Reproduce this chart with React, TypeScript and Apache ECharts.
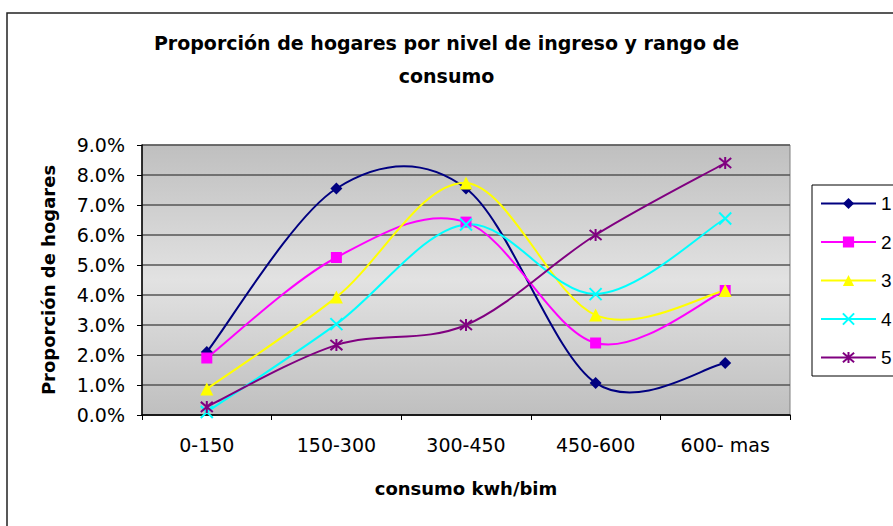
import React, { useEffect, useRef } from "react";
import * as echarts from "echarts";

const categories = ["0-150", "150-300", "300-450", "450-600", "600- mas"];
const seriesNames = ["1", "2", "3", "4", "5"];
const s1 = [2.1, 7.55, 7.55, 1.07, 1.73];
const s2 = [1.9, 5.25, 6.43, 2.4, 4.15];
const s3 = [0.87, 3.93, 7.73, 3.33, 4.15];
const s4 = [0.1, 3.03, 6.35, 4.03, 6.55];
const s5 = [0.27, 2.33, 3.0, 6.0, 8.4];
const seriesValues = [s1, s2, s3, s4, s5];
const colors = ["#000080", "#FF00FF", "#FFFF00", "#00FFFF", "#800080"];
const symbols = [
  "diamond",
  "rect",
  "triangle",
  "path://M0,0L10,10M10,0L0,10",
  "path://M5,0L5,10M0,0.8L10,9.2M10,0.8L0,9.2",
];
const symbolSizes = [12, 11, 13, 12, 12];

const FONT = "'DejaVu Sans', sans-serif";
const LEGEND_FONT = "'Liberation Sans', Arial, sans-serif";

// Excel-like smoothed curve (Catmull-Rom style Bezier) through the points
function smoothPath(pts: number[][]): string {
  const n = pts.length;
  let d = `M${pts[0][0]},${pts[0][1]}`;
  for (let i = 0; i < n - 1; i++) {
    const p0 = pts[Math.max(i - 1, 0)];
    const p1 = pts[i];
    const p2 = pts[i + 1];
    const p3 = pts[Math.min(i + 2, n - 1)];
    const c1x = p1[0] + (p2[0] - p0[0]) / 6;
    const c1y = p1[1] + (p2[1] - p0[1]) / 6;
    const c2x = p2[0] - (p3[0] - p1[0]) / 6;
    const c2y = p2[1] - (p3[1] - p1[1]) / 6;
    d += ` C${c1x},${c1y} ${c2x},${c2y} ${p2[0]},${p2[1]}`;
  }
  return d;
}

export default function App() {
  const ref = useRef<HTMLDivElement>(null);
  useEffect(() => {
    if (!ref.current) return;
    const chart = echarts.init(ref.current, undefined, { renderer: "svg" });
    const curveSeries = seriesValues.map((vals, i) => ({
      name: "curve" + seriesNames[i],
      type: "custom",
      silent: true,
      z: 2,
      data: [[0, vals[0]]],
      renderItem: (_params: any, api: any) => {
        const pts = vals.map((v, j) => api.coord([j, v]));
        return {
          type: "path",
          shape: { pathData: smoothPath(pts) },
          style: { stroke: colors[i], fill: "none", lineWidth: 2 },
        };
      },
    }));
    const markerSeries = seriesValues.map((vals, i) => {
      const isStroke = i >= 3;
      return {
        name: seriesNames[i],
        type: "line",
        z: 3,
        data: vals,
        symbol: symbols[i],
        symbolSize: symbolSizes[i],
        showAllSymbol: true,
        lineStyle: { color: colors[i], width: 2, opacity: 0 },
        itemStyle: isStroke
          ? { color: colors[i], borderColor: colors[i], borderWidth: 2 }
          : { color: colors[i], borderWidth: 0 },
        emphasis: { disabled: true },
      };
    });
    chart.setOption({
      animation: false,
      textStyle: { fontFamily: FONT },
      color: colors,
      title: {
        text: "Proporción de hogares por nivel de ingreso y rango de\nconsumo",
        left: "center",
        top: 21,
        textStyle: {
          fontFamily: FONT,
          fontWeight: "bold",
          fontSize: 19,
          color: "#000",
          lineHeight: 33,
        },
      },
      graphic: [
        {
          type: "rect",
          shape: { x: 7, y: 13, width: 950, height: 600 },
          style: { fill: "none", stroke: "#222", lineWidth: 1.5 },
          silent: true,
          z: -10,
        },
      ],
      legend: {
        orient: "vertical",
        left: 812,
        top: 185,
        padding: [9, 24, 9, 8],
        itemGap: 19.5,
        itemWidth: 55,
        itemHeight: 14,
        borderColor: "#000",
        borderWidth: 1,
        backgroundColor: "#fff",
        lineStyle: { width: 2, opacity: 1 },
        textStyle: { fontFamily: LEGEND_FONT, fontSize: 19, color: "#000", padding: 0 },
        data: seriesNames,
      },
      grid: {
        left: 142,
        right: 103,
        top: 145,
        bottom: 111,
        show: true,
        borderColor: "#808080",
        borderWidth: 1,
        backgroundColor: new echarts.graphic.LinearGradient(0, 0, 0, 1, [
          { offset: 0, color: "#bfbfbf" },
          { offset: 0.5, color: "#e2e2e2" },
          { offset: 1, color: "#bfbfbf" },
        ]),
      },
      xAxis: {
        type: "category",
        data: categories,
        boundaryGap: true,
        name: "consumo kwh/bim",
        nameLocation: "middle",
        nameGap: 64,
        nameTextStyle: { fontFamily: FONT, fontWeight: "bold", fontSize: 18, color: "#000" },
        axisLine: { lineStyle: { color: "#000", width: 1.5 } },
        axisTick: { show: true, length: 5, lineStyle: { color: "#000" } },
        axisLabel: { fontFamily: FONT, fontSize: 19, color: "#000", margin: 20 },
        splitLine: { show: false },
      },
      yAxis: {
        type: "value",
        min: 0,
        max: 9,
        interval: 1,
        name: "Proporción de hogares",
        nameLocation: "middle",
        nameGap: 85,
        nameTextStyle: { fontFamily: FONT, fontWeight: "bold", fontSize: 18, color: "#000" },
        axisLine: { show: true, lineStyle: { color: "#000", width: 1.5 } },
        axisTick: { show: true, length: 5, lineStyle: { color: "#000" } },
        axisLabel: {
          fontFamily: FONT,
          fontSize: 19,
          color: "#000",
          margin: 17,
          formatter: (v: number) => v.toFixed(1) + "%",
        },
        splitLine: { show: true, lineStyle: { color: "#555", width: 1.5 } },
      },
      series: [...curveSeries, ...markerSeries],
    });
    return () => chart.dispose();
  }, []);
  return (
    <div
      ref={ref}
      style={{ position: "absolute", left: 0, top: 0, width: 893, height: 526, background: "#fff" }}
    />
  );
}
